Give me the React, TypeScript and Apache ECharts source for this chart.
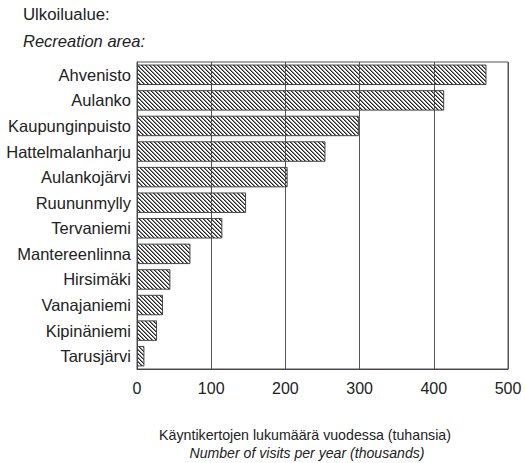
import React, { useEffect, useRef } from "react";
import * as echarts from "echarts";

const categories = [
  "Ahvenisto",
  "Aulanko",
  "Kaupunginpuisto",
  "Hattelmalanharju",
  "Aulankojärvi",
  "Ruununmylly",
  "Tervaniemi",
  "Mantereenlinna",
  "Hirsimäki",
  "Vanajaniemi",
  "Kipinäniemi",
  "Tarusjärvi",
];
const visits = [471, 414, 299, 254, 203, 147, 115, 72, 45, 35, 27, 10];
const xTicks = { min: 0, max: 500, interval: 100 };
const titleFi = "Ulkoilualue:";
const titleEn = "Recreation area:";
const axisNameFi = "Käyntikertojen lukumäärä vuodessa (tuhansia)";
const axisNameEn = "Number of visits per year (thousands)";

const FONT = "'Liberation Sans', Arial, Helvetica, sans-serif";

function makeHatch(): HTMLCanvasElement {
  const c = document.createElement("canvas");
  c.width = 4;
  c.height = 4;
  const ctx = c.getContext("2d")!;
  for (let i = 0; i < 4; i++) {
    ctx.fillStyle = "#222";
    ctx.fillRect(i, i, 1, 1);
    ctx.fillStyle = "#888";
    ctx.fillRect((i + 1) % 4, i, 1, 1);
  }
  return c;
}

export default function App() {
  const ref = useRef<HTMLDivElement>(null);
  useEffect(() => {
    document.body.style.margin = "0";
    const chart = echarts.init(ref.current!, undefined, { renderer: "svg" });
    const hatch = makeHatch();
    chart.setOption({
      animation: false,
      backgroundColor: "#fff",
      grid: {
        left: 137,
        right: 17,
        top: 62,
        bottom: 94,
        show: true,
        borderColor: "#555",
        borderWidth: 1,
        backgroundColor: "transparent",
      },
      xAxis: {
        type: "value",
        min: xTicks.min,
        max: xTicks.max,
        interval: xTicks.interval,
        axisLine: { show: true, lineStyle: { color: "#444", width: 1 } },
        axisTick: { show: false },
        axisLabel: { fontSize: 16, color: "#222", margin: 11, fontFamily: FONT },
        splitLine: { show: true, lineStyle: { color: "#555", width: 1 } },
      },
      yAxis: {
        type: "category",
        data: categories,
        inverse: true,
        axisLine: { show: true, lineStyle: { color: "#444", width: 1 } },
        axisTick: { show: false },
        axisLabel: { fontSize: 16.5, color: "#222", margin: 6, fontFamily: FONT },
        splitLine: { show: false },
      },
      series: [
        {
          type: "bar",
          data: visits,
          barCategoryGap: "20%",
          itemStyle: {
            color: { image: hatch, repeat: "repeat" },
            borderColor: "#444",
            borderWidth: 1,
          },
        },
      ],
      graphic: [
        {
          type: "text",
          x: 23,
          y: 14,
          style: {
            text: titleFi,
            fontSize: 16.8,
            fill: "#222",
            fontFamily: FONT,
            verticalAlign: "middle",
          },
        },
        {
          type: "text",
          x: 23,
          y: 41,
          style: {
            text: titleEn,
            fontSize: 16.5,
            fontStyle: "italic",
            fill: "#222",
            fontFamily: FONT,
            verticalAlign: "middle",
          },
        },
        {
          type: "text",
          x: 305,
          y: 435,
          style: {
            text: axisNameFi,
            fontSize: 14.2,
            fill: "#222",
            fontFamily: FONT,
            align: "center",
            verticalAlign: "middle",
          },
        },
        {
          type: "text",
          x: 307,
          y: 453,
          style: {
            text: axisNameEn,
            fontSize: 14.1,
            fontStyle: "italic",
            fill: "#222",
            fontFamily: FONT,
            align: "center",
            verticalAlign: "middle",
          },
        },
      ],
    });
    return () => chart.dispose();
  }, []);
  return <div ref={ref} style={{ width: 525, height: 463 }} />;
}
